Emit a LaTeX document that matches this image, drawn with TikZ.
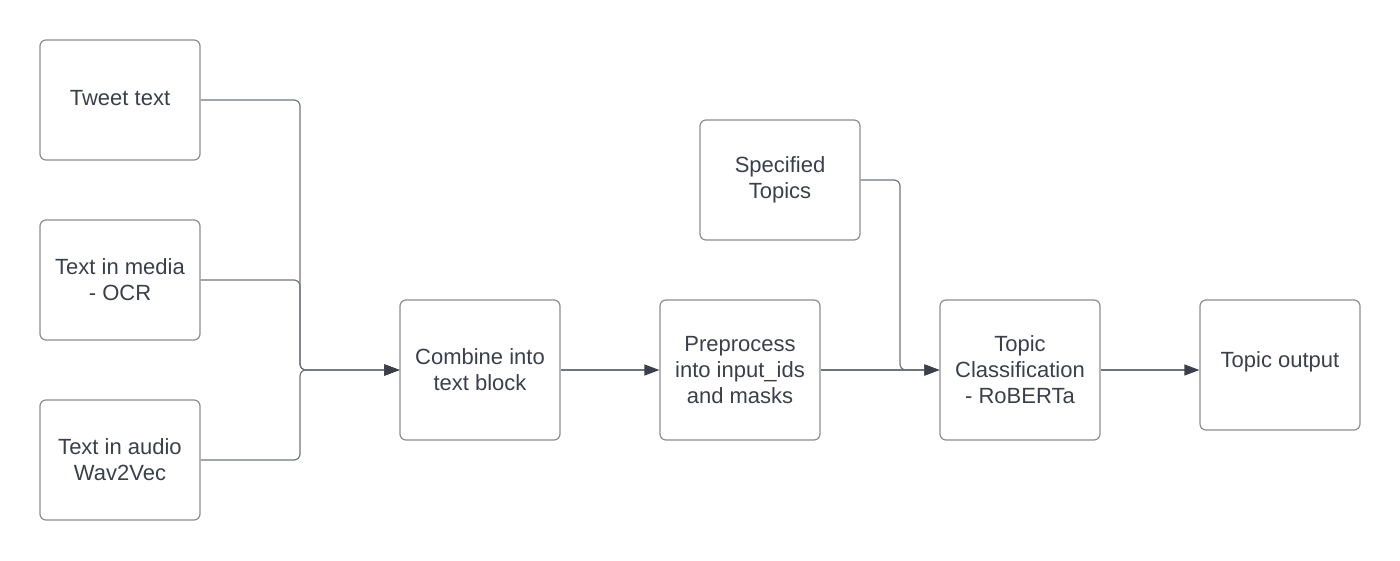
\documentclass[tikz,border=0pt]{standalone}
\usepackage{fontspec}
\setmainfont{Liberation Sans}
\usetikzlibrary{arrows.meta}
\definecolor{boxline}{HTML}{8A8D93}
\definecolor{txt}{HTML}{3A3F4A}
\definecolor{conn}{HTML}{70747C}
\definecolor{tipc}{HTML}{3A3F4A}
\begin{document}
\begin{tikzpicture}[x=1pt,y=-1pt,
  blk/.style={draw=boxline, line width=1.2pt, rounded corners=6pt, minimum width=160pt, minimum height=120pt,
    inner sep=0pt, align=center, text=txt, font=\fontsize{22}{26}\selectfont},
  lbl/.style={inner sep=0pt, align=center, text=txt, font=\fontsize{22}{26}\selectfont},
  link/.style={draw=conn, line width=1.2pt, rounded corners=6pt,
    -{Triangle[length=15pt,width=11pt,fill=tipc,color=tipc]}}]
\useasboundingbox (0,0) rectangle (1400,560);
\node[blk] (tweet) at (120,100) {};
\node[lbl] (tweetl) at (120,98) {Tweet text};
\node[blk] (media) at (120,280) {Text in media\\- OCR};
\node[blk] (audio) at (120,460) {Text in audio\\Wav2Vec};
\node[blk, minimum height=140pt] (combine) at (480,370) {Combine into\\text block};
\node[blk, minimum height=140pt] (prep) at (740,370) {Preprocess\\into input\_ids\\and masks};
\node[blk] (spec) at (780,180) {Specified\\Topics};
\node[blk, minimum height=140pt] (topic) at (1020,370) {Topic\\Classification\\- RoBERTa};
\node[blk, minimum height=130pt] (out) at (1280,365) {};
\node[lbl] (outl) at (1280,362) {Topic output};
\coordinate (j1) at (300,370);
\coordinate (j2) at (900,370);
\draw[link] (tweet.east) -| (j1) -- (combine.west);
\draw[link] (media.east) -| (j1) -- (combine.west);
\draw[link] (audio.east) -| (j1) -- (combine.west);
\draw[link] (combine.east) -- (prep.west);
\draw[link] (prep.east) -- (topic.west);
\draw[link] (spec.east) -| (j2) -- (topic.west);
\draw[link] (topic.east) -- (topic.east -| out.west);
\end{tikzpicture}
\end{document}
